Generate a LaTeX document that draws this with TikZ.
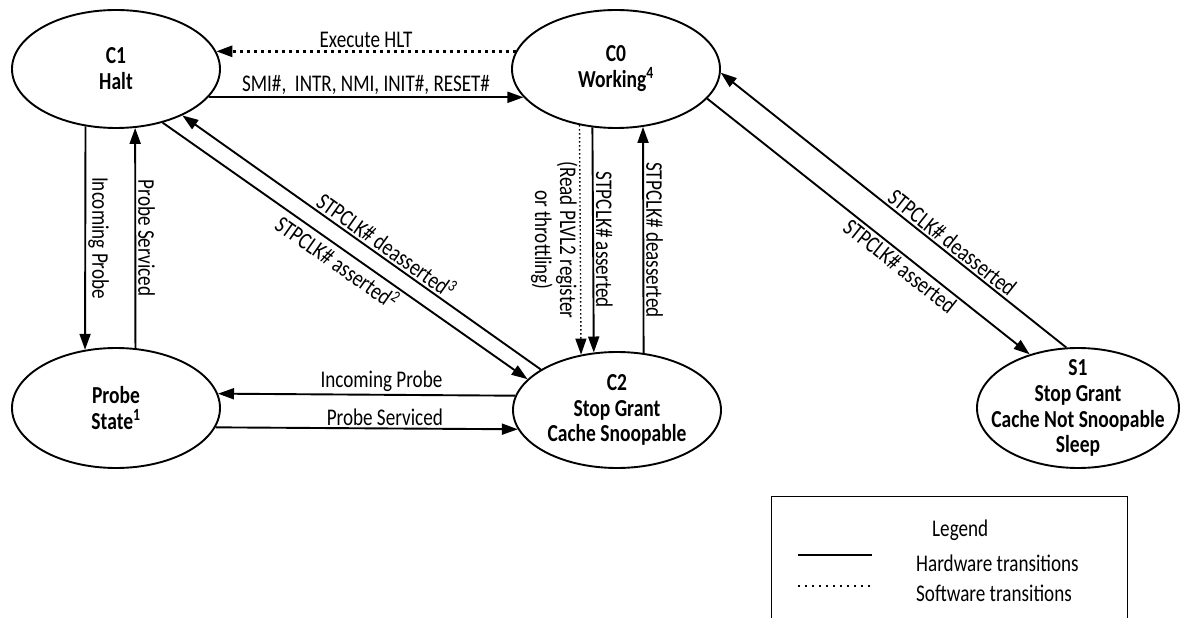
\documentclass[tikz,border=0pt]{standalone}
\usepackage{fontspec}
\setmainfont{Carlito}[FakeStretch=0.8]
\usetikzlibrary{arrows.meta,shapes.geometric}
\begin{document}
\begin{tikzpicture}[x=1bp,y=-1bp,
  state/.style={draw, ellipse, line width=1.9bp, minimum width=208bp, minimum height=118bp, inner sep=0pt},
  stext/.style={align=center, inner sep=0pt, font=\fontsize{24.5}{26}\selectfont\bfseries},
  tip/.style={-{Triangle[length=16bp,width=11bp]}},
  hw/.style={line width=1.9bp, tip},
  sw/.style={line width=2.6bp, dash pattern=on 2.6bp off 4.4bp, tip},
  swthin/.style={line width=1.4bp, dash pattern=on 1.4bp off 2.6bp, tip},
  lbl/.style={font=\fontsize{24}{25}\selectfont, inner sep=2bp},
]
\useasboundingbox (0,0) rectangle (1180,618);

% states
\node[state] (c1) at (116,69) {};
\node[stext] (c1t) at (c1) {C1\\Halt};
\node[state] (c0) at (616,69) {};
\node[stext] (c0t) at (c0) {C0\\Working\textsuperscript{4}};
\node[state, minimum height=120bp] (pr) at (116,408) {};
\node[stext] (prt) at (pr) {Probe\\State\textsuperscript{1}};
\node[state, minimum height=116bp] (c2) at (617,410) {};
\node[stext] (c2t) at (c2) {C2\\Stop Grant\\Cache Snoopable};
\node[state, minimum width=202bp, minimum height=120bp] (s1) at (1078,408) {};
\node[stext] (s1t) at (s1) {S1\\Stop Grant\\Cache Not Snoopable\\Sleep};

% top pair
\draw[sw] (c0.170) -- node[lbl, above] (l1) {Execute HLT} (c1.10);
\draw[hw] (c1.-17) -- node[lbl, above] (l2) {SMI\#,~ INTR, NMI, INIT\#, RESET\#} (c0.197);

% C1 <-> Probe
\draw[hw] (c1.-118) -- node[lbl, rotate=-90, anchor=south] (l3) {Incoming Probe} (pr.118);
\draw[hw] (pr.72) -- node[lbl, rotate=-90, anchor=south] (l4) {Probe Serviced} (c1.-72);

% Probe <-> C2
\draw[hw] (c2.172) -- node[lbl, above, pos=.45] (l5) {Incoming Probe} (pr.8);
\draw[hw] (pr.-11) -- node[lbl, above, pos=.56] (l6) {Probe Serviced} (c2.191);

% C0 <-> C2
\draw[swthin] (c0.-123) -- node[lbl, rotate=-90, anchor=north, align=center] (l7) {(Read PLVL2 register\\or throttling)} (c2.123);
\draw[hw] (c0.-112) -- node[lbl, rotate=-90, anchor=south] (l8) {STPCLK\# asserted} (c2.112);
\draw[hw] (c2.65) -- node[lbl, rotate=-90, anchor=south] (l9) {STPCLK\# deasserted} (c0.-65);

% C1 <-> C2 diagonals
\draw[hw] (c2.152) -- node[lbl, sloped, above, pos=.45] (l10) {STPCLK\# deasserted\textsuperscript{3}} (c1.-35);
\draw[hw] (c1.-49) -- node[lbl, sloped, below, pos=.5] (l11) {STPCLK\# asserted\textsuperscript{2}} (c2.161);

% C0 <-> S1 diagonals
\draw[hw] (s1.101) -- node[lbl, sloped, above, pos=.35] (l12) {STPCLK\# deasserted} (c0.-2);
\draw[hw] (c0.-18) -- node[lbl, sloped, below, pos=.62] (l13) {STPCLK\# asserted} (s1.132);

% legend
\node[draw, line width=1.3bp, minimum width=356bp, minimum height=150bp, anchor=north west, inner sep=0pt] (lg) at (771,496) {};
\node[lbl, anchor=west] (lgt) at (930,530) {Legend};
\draw[line width=1.9bp] (798,555) -- (872,555);
\node[lbl, anchor=west] (lgh) at (914,563) {Hardware transitions};
\draw[line width=2.4bp, dash pattern=on 2.4bp off 4.6bp] (798,586) -- (872,586);
\node[lbl, anchor=west] (lgs) at (914,593) {Software transitions};
\end{tikzpicture}
\end{document}
